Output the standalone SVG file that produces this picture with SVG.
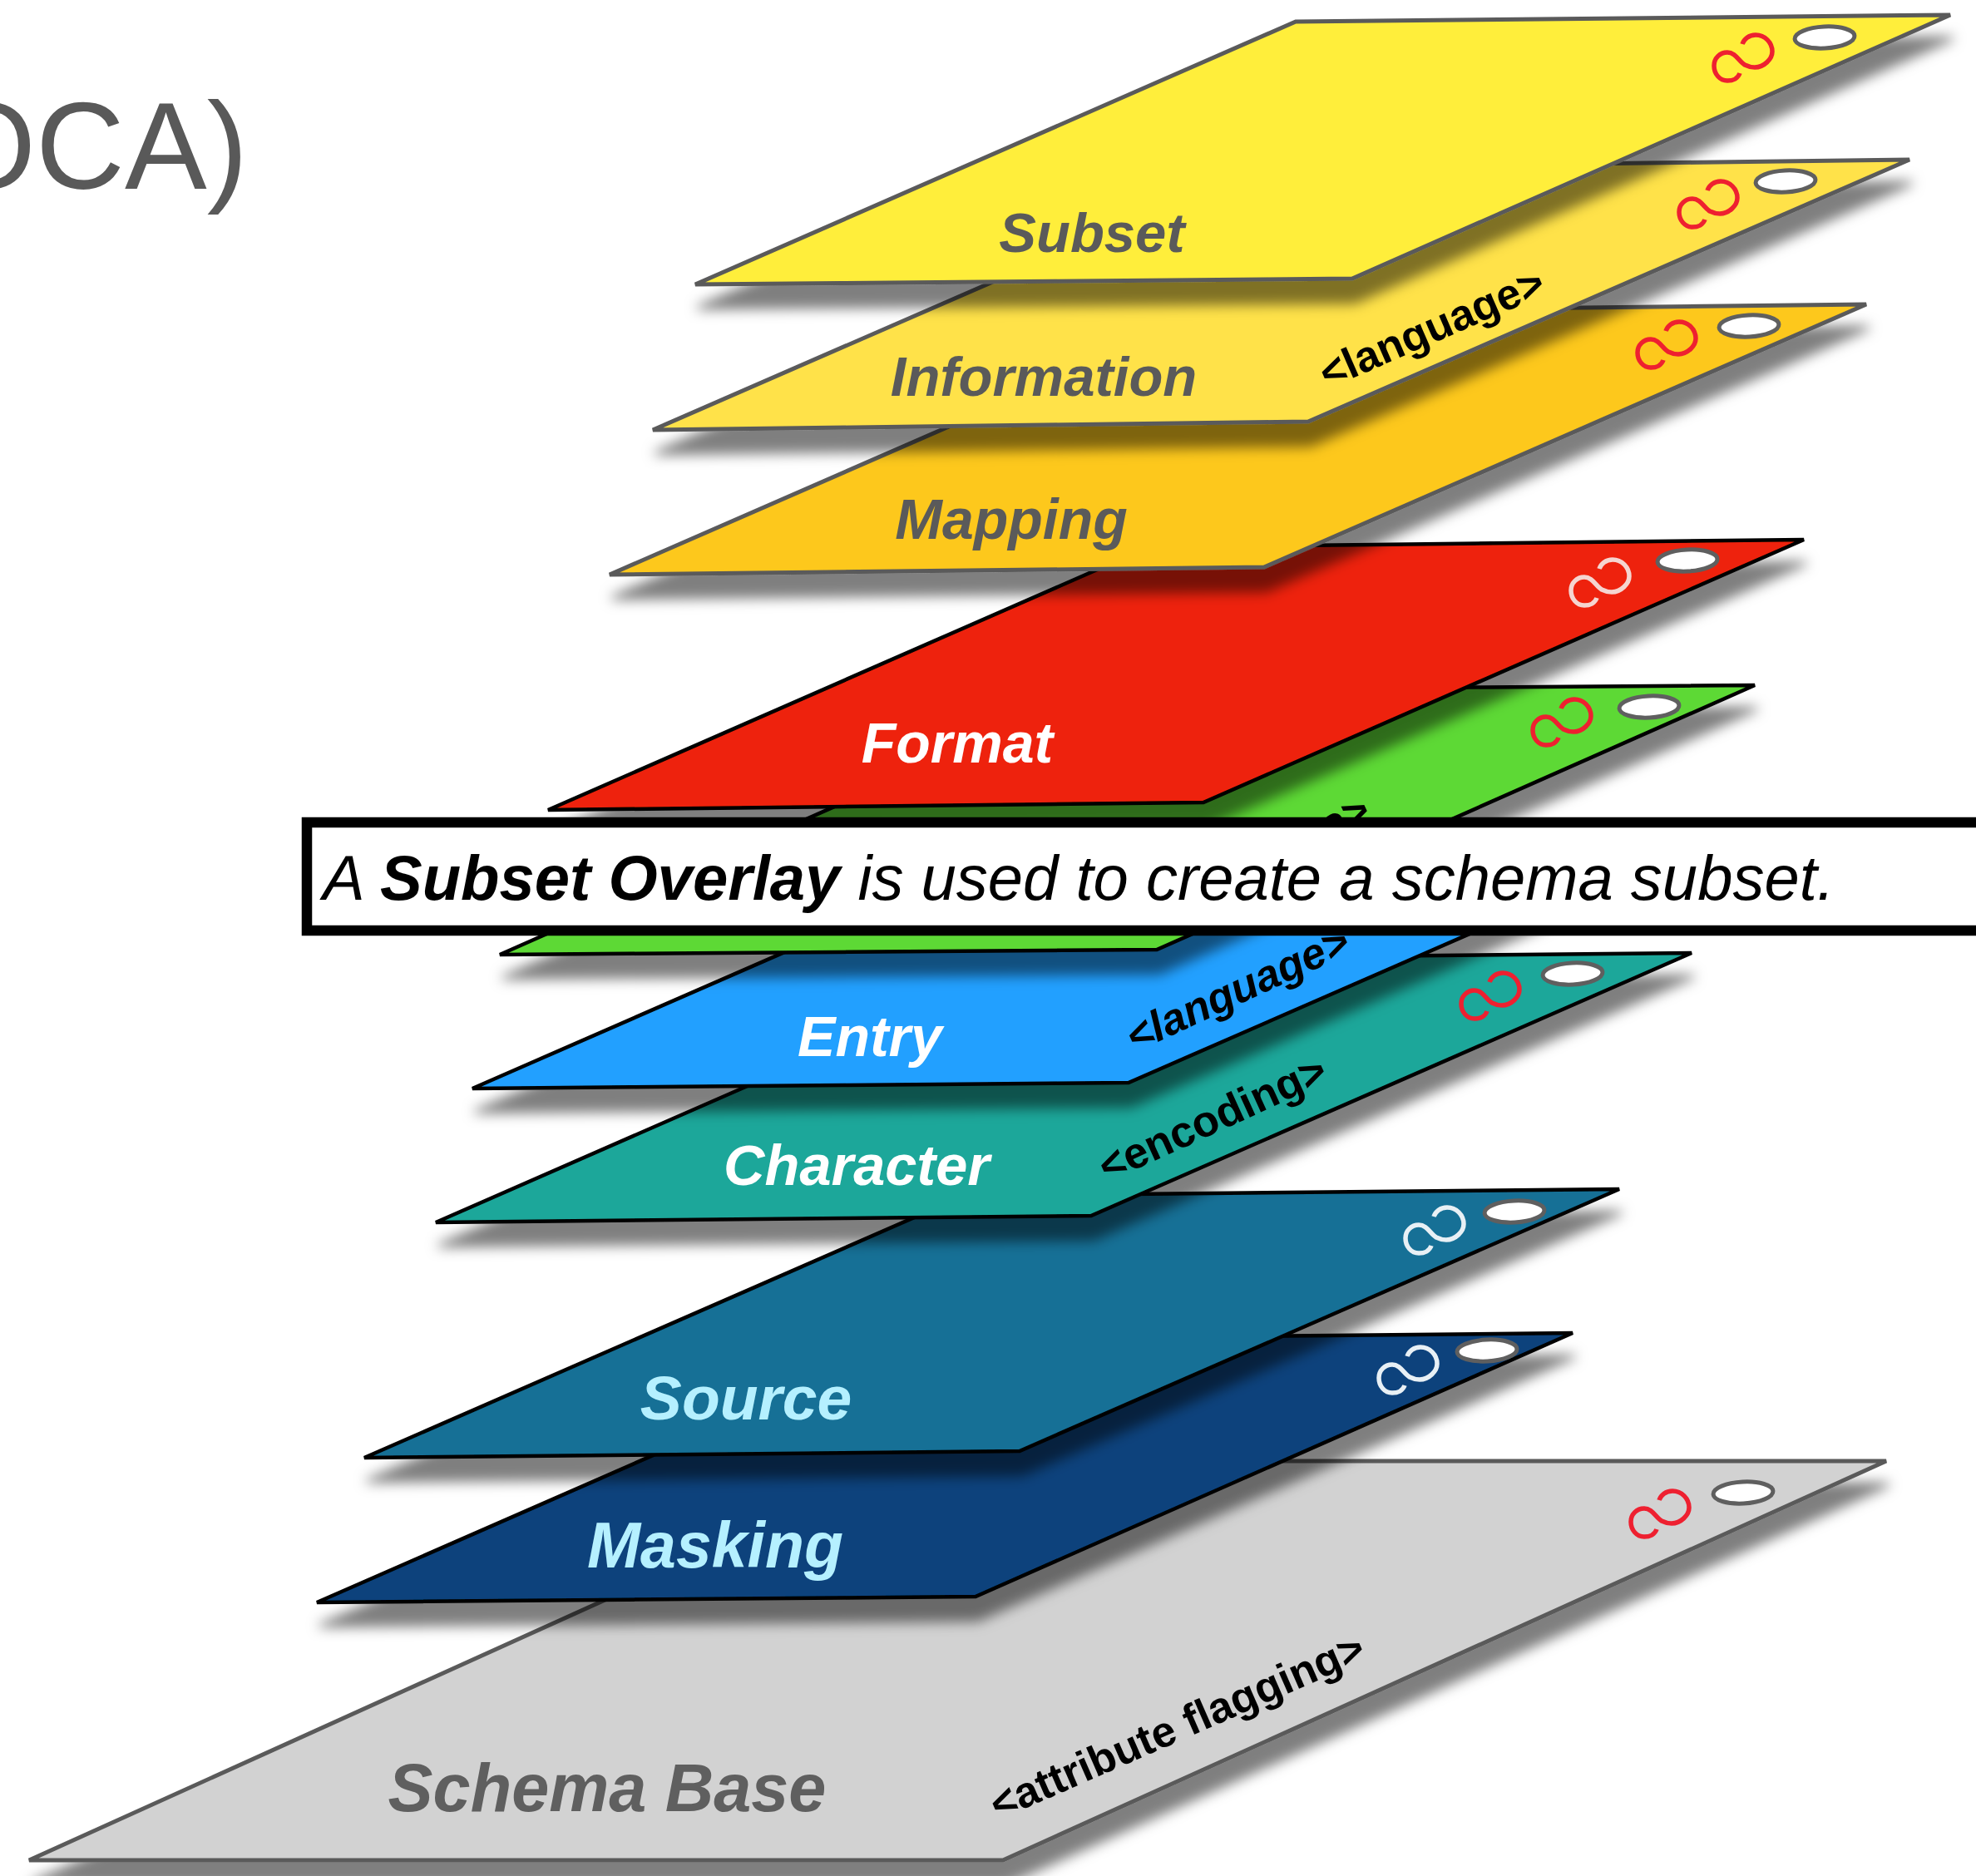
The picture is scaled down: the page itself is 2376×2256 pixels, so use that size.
<svg xmlns="http://www.w3.org/2000/svg" width="2376" height="2256" viewBox="0 0 2376 2256">
<style>
text{font-family:"Liberation Sans",Arial,sans-serif}
.name{font-weight:700;font-style:italic;text-anchor:middle}
.tag{font-weight:700;fill:#000}
.g{stroke:#5a5a5a;stroke-width:5;stroke-linejoin:miter;filter:url(#sh)}
.k{stroke:#000;stroke-width:4.5;stroke-linejoin:miter;filter:url(#sh)}
.hole{fill:#fff;stroke:#5f5f5f;stroke-width:5}
.inf{fill:none;stroke-width:5.5;stroke-linecap:butt}
</style>
<defs>
<filter id="sh" x="-5%" y="-5%" width="110%" height="120%"><feDropShadow dx="3" dy="28" stdDeviation="7.5" flood-color="#000" flood-opacity=".5"/></filter>
<path id="infinity" d="M-3,18C-5,24 -11,27 -18,27C-27,27 -34,19 -34,9C-34,0 -27,-7 -18,-7C-8,-7 -4,4 3,8C7,10 11,11 15,11C26,11 36,1 36,-8C36,-19 27,-28 16,-28C8,-28 2,-23 0,-17"/>
</defs>
<rect width="2376" height="2256" fill="#fff"/>

<g id="base">
<polygon class="g" points="1097,1757 2268,1757 1206,2237 35,2237" fill="#d2d2d2"/>
<text class="name" x="730" y="2178" font-size="81" fill="#5f5f5f">Schema Base</text>
<text class="tag" transform="translate(1200,2189) rotate(-23.6)" font-size="52">&lt;attribute flagging&gt;</text>
<ellipse class="hole" cx="2096" cy="1795" rx="36" ry="13" transform="rotate(-3 2096 1795)"/>
<use href="#infinity" class="inf" stroke="#ee2030" transform="translate(1995,1821)"/>
</g>

<g id="masking">
<polygon class="k" points="1103,1611 1891,1603 1173,1920 381,1927" fill="#09437c"/>
<text class="name" x="860" y="1885" font-size="77" fill="#b5f0ff">Masking</text>
<ellipse class="hole" cx="1788" cy="1624" rx="36" ry="13" transform="rotate(-3 1788 1624)"/>
<use href="#infinity" class="inf" stroke="#e8f0f5" transform="translate(1692,1648)"/>
</g>

<g id="source">
<polygon class="k" points="1159,1438 1947,1430 1226,1745 438,1753" fill="#136f96"/>
<text class="name" x="897" y="1707" font-size="75" fill="#b5f0ff">Source</text>
<ellipse class="hole" cx="1821" cy="1457" rx="36" ry="13" transform="rotate(-3 1821 1457)"/>
<use href="#infinity" class="inf" stroke="#e8f0f5" transform="translate(1724,1480)"/>
</g>

<g id="character">
<polygon class="k" points="1246,1154 2034,1146 1312,1462 524,1470" fill="#1fa79a"/>
<text class="name" x="1030" y="1425" font-size="68.5" fill="#fff">Character</text>
<text class="tag" transform="translate(1331,1422) rotate(-24.5)" font-size="52.5">&lt;encoding&gt;</text>
<ellipse class="hole" cx="1891" cy="1171" rx="36" ry="13" transform="rotate(-3 1891 1171)"/>
<use href="#infinity" class="inf" stroke="#ee2030" transform="translate(1791,1198)"/>
</g>

<g id="entry">
<polygon class="k" points="1289,994 2079,987 1357,1302 568,1309" fill="#22a0ff"/>
<text class="name" x="1046" y="1270" font-size="68" fill="#fff">Entry</text>
<text class="tag" transform="translate(1364,1266) rotate(-24.8)" font-size="52" font-style="italic">&lt;language&gt;</text>
</g>

<g id="conformance">
<polygon class="k" points="1320,830 2110,824 1391,1142 601,1148" fill="#5dd935"/>
<text class="tag" transform="translate(1388,1108) rotate(-24.8)" font-size="52" font-style="italic">&lt;language&gt;</text>
<ellipse class="hole" cx="1983" cy="850" rx="36" ry="13" transform="rotate(-3 1983 850)"/>
<use href="#infinity" class="inf" stroke="#ee2030" transform="translate(1877,869)"/>
</g>

<g id="format">
<polygon class="k" points="1381,658 2169,649 1447,965 659,974" fill="#ee2409"/>
<text class="name" x="1151" y="917" font-size="68" fill="#fff">Format</text>
<ellipse class="hole" cx="2029" cy="674" rx="36" ry="13" transform="rotate(-3 2029 674)"/>
<use href="#infinity" class="inf" stroke="#f5d5d0" transform="translate(1923,701)"/>
</g>

<g id="mapping">
<polygon class="g" points="1457,375 2244,366 1520,682 733,691" fill="#fdc81b"/>
<text class="name" x="1216" y="648" font-size="68" fill="#5a5a5a">Mapping</text>
<ellipse class="hole" cx="2103" cy="392" rx="36" ry="13" transform="rotate(-3 2103 392)"/>
<use href="#infinity" class="inf" stroke="#ee2030" transform="translate(2003,415)"/>
</g>

<g id="information">
<polygon class="g" points="1508,202 2296,192 1573,507 785,517" fill="#ffe24a"/>
<text class="name" x="1255" y="476" font-size="67" fill="#5a5a5a">Information</text>
<text class="tag" transform="translate(1596,468) rotate(-23.5)" font-size="52">&lt;language&gt;</text>
<ellipse class="hole" cx="2147" cy="218" rx="36" ry="13" transform="rotate(-3 2147 218)"/>
<use href="#infinity" class="inf" stroke="#ee2030" transform="translate(2053,246)"/>
</g>

<g id="subset">
<polygon class="g" points="1558,26 2345,18 1626,335 836,342" fill="#ffee3b"/>
<text class="name" x="1313" y="303" font-size="67" fill="#5a5a5a">Subset</text>
<ellipse class="hole" cx="2194" cy="45" rx="36" ry="13" transform="rotate(-3 2194 45)"/>
<use href="#infinity" class="inf" stroke="#ee2030" transform="translate(2095,70)"/>
</g>

<g id="caption">
<rect x="369" y="989" width="2040" height="130" fill="#fff" stroke="#000" stroke-width="12.5"/>
<text x="388" y="1082" font-size="76" font-style="italic" fill="#000">A <tspan font-weight="700">Subset Overlay</tspan> is used to create a schema subset.</text>
</g>

<text id="title" x="298" y="227" font-size="148" text-anchor="end" fill="#595959">OCA)</text>
</svg>
